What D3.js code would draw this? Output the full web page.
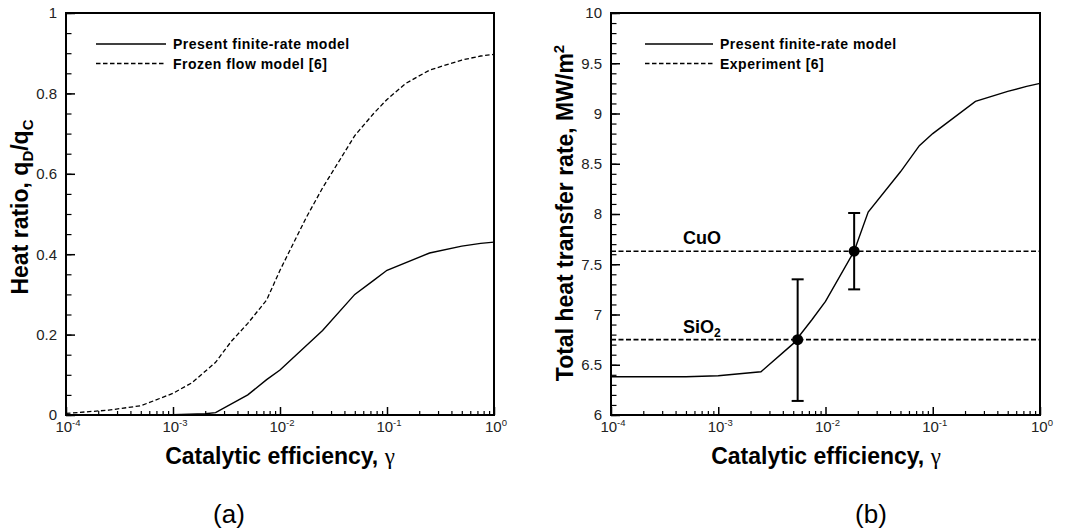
<!DOCTYPE html>
<html>
<head>
<script src="https://cdn.jsdelivr.net/npm/d3@7"></script>
<style>
  body { margin: 0; background: #fff; }
  text { font-family: "Liberation Sans", Arial, sans-serif; }
</style>
</head>
<body>
<script>
// ---- data ----
// (a) heat ratio qD/qC vs catalytic efficiency
var gammaFrozen = [1e-4, 2.5e-4, 5e-4, 7.5e-4, 1e-3, 1.5e-3, 2.5e-3, 3.5e-3, 5e-3, 7.5e-3, 1e-2,
                   1.75e-2, 2.5e-2, 5e-2, 7.5e-2, 1e-1, 1.5e-1, 2.5e-1, 5e-1, 7.5e-1, 1];
var ratioFrozen = [0.004, 0.012, 0.023, 0.041, 0.054, 0.08, 0.131, 0.183, 0.228, 0.286, 0.36,
                   0.49, 0.565, 0.695, 0.75, 0.785, 0.825, 0.858, 0.883, 0.893, 0.897];
var gammaFiniteA = [1e-4, 1e-3, 2e-3, 2.5e-3, 5e-3, 7.5e-3, 1e-2, 2.5e-2, 5e-2, 7.5e-2, 1e-1, 2.5e-1, 5e-1, 7.5e-1, 1];
var ratioFinite  = [0, 0.001, 0.003, 0.006, 0.05, 0.088, 0.112, 0.21, 0.30, 0.335, 0.36, 0.403, 0.42, 0.427, 0.43];

// (b) total heat transfer rate vs catalytic efficiency
var gammaFiniteB = [1e-4, 5e-4, 1e-3, 2.5e-3, 5e-3, 7.5e-3, 1e-2, 1.85e-2, 2.5e-2, 5e-2, 7.5e-2, 1e-1, 2.5e-1, 5e-1, 7.5e-1, 1];
var heatFinite   = [6.38, 6.38, 6.39, 6.43, 6.71, 6.95, 7.13, 7.63, 8.02, 8.42, 8.68, 8.80, 9.12, 9.22, 9.27, 9.30];

// experiment [6]
var expNames = ["CuO", "SiO2"];
var expGamma = [0.0185, 0.0055];
var expHeat  = [7.63, 6.75];
var expLow   = [7.25, 6.14];
var expHigh  = [8.01, 7.35];

// ticks
var decadeTicks = [1e-4, 1e-3, 1e-2, 1e-1, 1];
var decadeExp   = ["-4", "-3", "-2", "-1", "0"];
var ratioTicks  = [0, 0.2, 0.4, 0.6, 0.8, 1];
var ratioLabels = ["0", "0.2", "0.4", "0.6", "0.8", "1"];
var heatTicks   = [6, 6.5, 7, 7.5, 8, 8.5, 9, 9.5, 10];
var heatLabels  = ["6", "6.5", "7", "7.5", "8", "8.5", "9", "9.5", "10"];

var W = 1070, H = 531;
var svg = d3.select("body").append("svg").attr("width", W).attr("height", H);

var plotTop = 13, plotBottom = 415;

// minor log ticks 2..9 in each decade
var minorX = [];
decadeTicks.slice(0, 4).forEach(function (d) {
  for (var k = 2; k <= 9; k++) minorX.push(d * k);
});

function drawPanel(left, right, yDomain, yTicks, yLabels, yMinorStep) {
  var x = d3.scaleLog().domain([1e-4, 1]).range([left, right]);
  var y = d3.scaleLinear().domain(yDomain).range([plotBottom, plotTop]);
  var g = svg.append("g");

  // minor y ticks
  var yMinor = d3.range(yDomain[0], yDomain[1] + 1e-9, yMinorStep);
  g.append("g").attr("transform", "translate(" + left + ",0)")
    .call(d3.axisLeft(y).tickValues(yMinor).tickSize(-5.5).tickFormat(""))
    .call(function (a) { a.select(".domain").remove(); a.selectAll("line").attr("stroke-width", 1.2); });
  // major y ticks
  g.append("g").attr("transform", "translate(" + left + ",0)")
    .call(d3.axisLeft(y).tickValues(yTicks).tickSize(-9).tickPadding(9)
      .tickFormat(function (d, i) { return yLabels[i]; }))
    .call(function (a) {
      a.select(".domain").remove();
      a.selectAll("line").attr("stroke-width", 1.5);
      a.selectAll("text").attr("font-size", 15).attr("fill", "#222")
        .attr("font-family", "'Liberation Sans', Arial, sans-serif");
    });

  // x ticks
  g.append("g").attr("transform", "translate(0," + plotBottom + ")")
    .call(d3.axisBottom(x).tickValues(minorX).tickSize(-4).tickFormat(""))
    .call(function (a) { a.select(".domain").remove(); a.selectAll("line").attr("stroke-width", 1.2); });
  g.append("g").attr("transform", "translate(0," + plotBottom + ")")
    .call(d3.axisBottom(x).tickValues(decadeTicks).tickSize(-8).tickFormat(""))
    .call(function (a) { a.select(".domain").remove(); a.selectAll("line").attr("stroke-width", 1.5); });

  // decade labels 10^n
  var lab = g.selectAll(".xl").data(decadeTicks).enter().append("text")
    .attr("x", function (d) { return x(d) + 2; })
    .attr("y", 432)
    .attr("text-anchor", "middle")
    .attr("font-size", 15).attr("fill", "#222");
  lab.append("tspan").text("10");
  lab.append("tspan").attr("dy", -6).attr("font-size", 9.5)
    .text(function (d, i) { return decadeExp[i]; });

  // frame
  g.append("rect").attr("x", left).attr("y", plotTop)
    .attr("width", right - left).attr("height", plotBottom - plotTop)
    .attr("fill", "none").attr("stroke", "#000").attr("stroke-width", 2);

  return { x: x, y: y, g: g };
}

function legend(x0, x1, labels, dashes) {
  labels.forEach(function (t, i) {
    var yy = 44 + i * 19.5;
    svg.append("line").attr("x1", x0).attr("x2", x1).attr("y1", yy).attr("y2", yy)
      .attr("stroke", "#000").attr("stroke-width", 1.4)
      .attr("stroke-dasharray", dashes[i]);
    svg.append("text").attr("x", x1 + 7).attr("y", yy + 5)
      .attr("font-size", 14).attr("font-weight", "bold").attr("letter-spacing", 0.5)
      .text(t);
  });
}

function xTitle(cx) {
  var t = svg.append("text").attr("x", cx).attr("y", 464).attr("text-anchor", "middle")
    .attr("font-size", 23).attr("font-weight", "bold");
  t.append("tspan").text("Catalytic efficiency, ");
  t.append("tspan").attr("font-family", "'Liberation Serif', 'Times New Roman', serif")
    .attr("font-weight", "normal").text("\u03b3");
}

// ---- panel (a) ----
var pa = drawPanel(66, 494, [0, 1], ratioTicks, ratioLabels, 0.05);
var lineA = d3.line().x(function (d) { return pa.x(d[0]); }).y(function (d) { return pa.y(d[1]); });
pa.g.append("path").datum(d3.zip(gammaFrozen, ratioFrozen)).attr("d", lineA)
  .attr("fill", "none").attr("stroke", "#000").attr("stroke-width", 1.3).attr("stroke-dasharray", "4.5,2.5");
pa.g.append("path").datum(d3.zip(gammaFiniteA, ratioFinite)).attr("d", lineA)
  .attr("fill", "none").attr("stroke", "#000").attr("stroke-width", 1.4);
legend(96, 166, ["Present finite-rate model", "Frozen flow model [6]"], [null, "4.5,2.5"]);
xTitle(280);
var ta = svg.append("text").attr("transform", "translate(28,207) rotate(-90)")
  .attr("text-anchor", "middle").attr("font-size", 23).attr("font-weight", "bold");
ta.append("tspan").text("Heat ratio, q");
ta.append("tspan").attr("font-size", 15).attr("dy", 5).text("D");
ta.append("tspan").attr("dy", -5).text("/q");
ta.append("tspan").attr("font-size", 15).attr("dy", 5).text("C");
svg.append("text").attr("x", 229).attr("y", 523).attr("text-anchor", "middle")
  .attr("font-family", "'Liberation Serif', 'Times New Roman', serif").attr("font-size", 26).text("(a)");

// ---- panel (b) ----
var pb = drawPanel(611, 1040, [6, 10], heatTicks, heatLabels, 0.1);
var lineB = d3.line().x(function (d) { return pb.x(d[0]); }).y(function (d) { return pb.y(d[1]); });
pb.g.append("path").datum(d3.zip(gammaFiniteB, heatFinite)).attr("d", lineB)
  .attr("fill", "none").attr("stroke", "#000").attr("stroke-width", 1.4);

// experiment levels
expHeat.forEach(function (v) {
  pb.g.append("line").attr("x1", pb.x(1e-4)).attr("x2", pb.x(1))
    .attr("y1", pb.y(v)).attr("y2", pb.y(v))
    .attr("stroke", "#000").attr("stroke-width", 1.6).attr("stroke-dasharray", "5,2.5");
});
// error bars and points
expGamma.forEach(function (gm, i) {
  var cx = pb.x(gm);
  pb.g.append("line").attr("x1", cx).attr("x2", cx)
    .attr("y1", pb.y(expLow[i])).attr("y2", pb.y(expHigh[i]))
    .attr("stroke", "#000").attr("stroke-width", 2);
  [expLow[i], expHigh[i]].forEach(function (e) {
    pb.g.append("line").attr("x1", cx - 6).attr("x2", cx + 6)
      .attr("y1", pb.y(e)).attr("y2", pb.y(e))
      .attr("stroke", "#000").attr("stroke-width", 2);
  });
  pb.g.append("circle").attr("cx", cx).attr("cy", pb.y(expHeat[i])).attr("r", 5.5).attr("fill", "#000");
});
// material labels
svg.append("text").attr("x", 683).attr("y", pb.y(expHeat[0]) - 7)
  .attr("font-size", 18).attr("font-weight", "bold").text(expNames[0]);
var si = svg.append("text").attr("x", 683).attr("y", pb.y(expHeat[1]) - 7)
  .attr("font-size", 18).attr("font-weight", "bold");
si.append("tspan").text("SiO");
si.append("tspan").attr("font-size", 12).attr("dy", 4).text("2");

legend(645, 713, ["Present finite-rate model", "Experiment [6]"], [null, "4.5,2.5"]);
xTitle(826);
var tb = svg.append("text").attr("transform", "translate(573,213) rotate(-90)")
  .attr("text-anchor", "middle").attr("font-size", 23).attr("font-weight", "bold");
tb.append("tspan").text("Total heat transfer rate, MW/m");
tb.append("tspan").attr("font-size", 15).attr("dy", -9).text("2");
svg.append("text").attr("x", 871).attr("y", 523).attr("text-anchor", "middle")
  .attr("font-family", "'Liberation Serif', 'Times New Roman', serif").attr("font-size", 26).text("(b)");
</script>
</body>
</html>
